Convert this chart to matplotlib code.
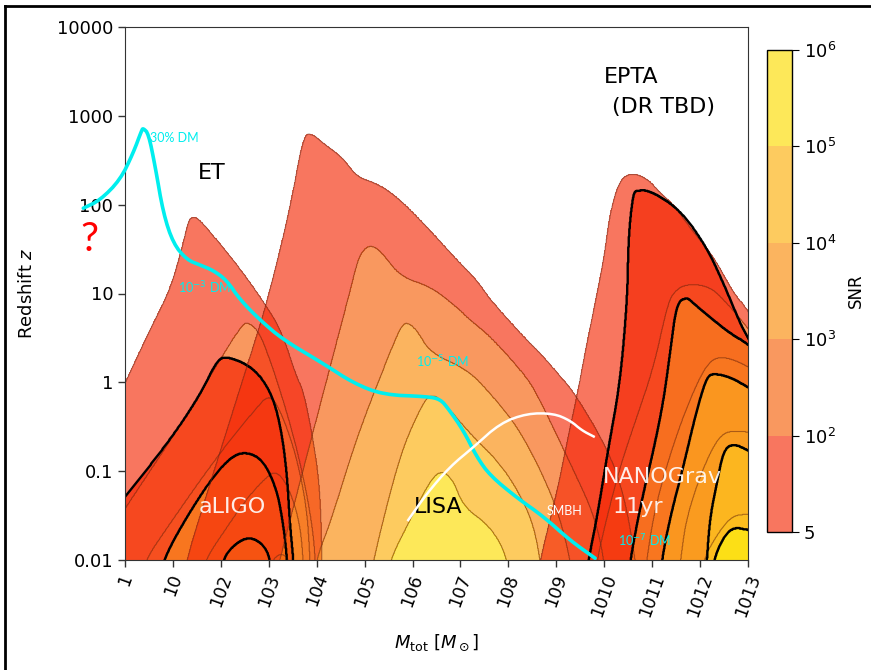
import numpy as np
import matplotlib
matplotlib.use("Agg")
import matplotlib.pyplot as plt
from matplotlib.path import Path
from matplotlib.colors import ListedColormap, BoundaryNorm
from matplotlib.cm import ScalarMappable
from matplotlib.lines import Line2D
from matplotlib.ticker import NullLocator

# SNR contour levels and band colours (drawn with alpha)
snr_levels = [5, 1e2, 1e3, 1e4, 1e5, 1e6]
snr_labels = ['5', '$10^2$', '$10^3$', '$10^4$', '$10^5$', '$10^6$']
band_colors = ['#f52d0a', '#f7610a', '#fa8c0a', '#fcaf0a', '#fcdd00']
band_alpha = 0.65

# contour outlines as (log10 M_tot, log10 z),
# one list per SNR level, outermost first
et_bands = [
    [(-0.5, -0.6), (0.0, -0.01), (0.52, 0.59), (0.94, 1.04), (1.18, 1.49), (1.32, 1.81),
     (1.39, 1.86), (1.53, 1.85), (1.98, 1.56), (2.47, 1.23), (2.96, 0.85), (3.27, 0.57),
     (3.58, 0.06), (3.72, -0.09), (3.93, -0.65), (4.07, -1.21), (4.11, -1.97), (4.12, -2.3)],
    [(-0.5, -1.84), (0.0, -1.42), (1.2, -0.45), (2.2, 0.45), (2.45, 0.64), (2.54, 0.68),
     (2.78, 0.59), (3.03, 0.25), (3.30, -0.20), (3.57, -0.71), (3.80, -1.27), (3.95, -1.78),
     (3.99, -2.3)],
    [(0.3, -2.3), (0.42, -2.0), (0.94, -1.59), (1.57, -1.10), (2.19, -0.65), (2.71, -0.31),
     (3.03, -0.12), (3.30, -0.39), (3.58, -0.84), (3.79, -1.40), (3.86, -1.97), (3.87, -2.3)],
    [(1.55, -2.3), (1.67, -2.0), (2.09, -1.66), (2.51, -1.33), (2.92, -1.08), (3.17, -0.99),
     (3.44, -1.21), (3.65, -1.59), (3.72, -2.0), (3.73, -2.3)],
    [(2.92, -2.3), (3.07, -2.0), (3.26, -1.92), (3.44, -2.0), (3.49, -2.3)],
]

aligo_bands = [
    [(-0.5, -1.63), (0.0, -1.29), (0.94, -0.65), (1.57, -0.14), (1.92, 0.25), (2.13, 0.295),
     (2.67, 0.17), (3.03, -0.09), (3.24, -0.46), (3.38, -1.02), (3.44, -1.59), (3.51, -1.97),
     (3.53, -2.3)],
    [(0.7, -2.3), (0.80, -1.97), (1.63, -1.21), (2.19, -0.84), (2.54, -0.78), (2.89, -0.88),
     (3.17, -1.21), (3.30, -1.59), (3.38, -1.97), (3.40, -2.3)],
    [(1.98, -2.3), (2.05, -1.97), (2.32, -1.81), (2.59, -1.74), (2.86, -1.81), (3.03, -1.97),
     (3.06, -2.3)],
]

lisa_bands = [
    [(1.2, -2.3), (1.28, -2.0), (1.77, -1.15), (2.19, -0.43), (2.61, 0.29), (2.96, 0.89),
     (3.44, 1.94), (3.72, 2.78), (3.90, 2.80), (4.14, 2.69), (4.56, 2.52), (4.84, 2.31),
     (5.25, 2.24), (5.67, 2.09), (6.23, 1.79), (6.92, 1.38), (7.34, 1.15), (7.62, 0.93),
     (8.32, 0.51), (8.66, 0.33), (9.08, 0.07), (9.43, -0.16), (10.12, -0.80), (10.44, -1.33),
     (10.65, -2.0), (10.7, -2.3)],
    [(3.1, -2.3), (3.24, -1.97), (4.28, 0.175), (4.63, 0.89), (4.84, 1.34), (4.94, 1.47),
     (5.11, 1.545), (5.32, 1.49), (5.74, 1.19), (6.37, 1.08), (6.92, 0.85), (7.2, 0.70),
     (7.62, 0.52), (8.32, 0.10), (8.59, -0.12), (9.29, -0.91), (9.78, -1.48), (9.99, -1.96),
     (10.02, -2.3)],
    [(3.95, -2.3), (4.0, -1.97), (4.28, -1.59), (4.84, -0.61), (5.5, 0.30), (5.75, 0.62),
     (5.88, 0.68), (6.09, 0.59), (6.37, 0.33), (7.13, 0.15), (7.62, -0.12), (8.25, -0.54),
     (8.94, -1.29), (9.29, -1.96), (9.32, -2.3)],
    [(5.1, -2.3), (5.18, -2.0), (5.74, -0.80), (6.2, -0.25), (6.37, -0.14), (6.58, -0.18),
     (7.2, -0.58), (7.90, -0.95), (8.46, -1.48), (8.66, -1.96), (8.7, -2.3)],
    [(5.45, -2.3), (5.53, -2.0), (5.9, -1.6), (6.37, -1.10), (6.61, -0.99), (6.85, -1.10),
     (7.06, -1.40), (7.62, -1.62), (7.97, -1.95), (8.0, -2.3)],
]

epta_bands = [
    [(8.6, -2.3), (8.66, -2.0), (9.01, -1.25), (9.29, -0.50), (9.43, -0.16), (9.57, 0.25),
     (9.78, 0.81), (9.99, 1.38), (10.13, 1.94), (10.33, 2.28), (10.54, 2.35), (10.75, 2.33),
     (10.96, 2.26), (11.17, 2.13), (11.45, 2.0), (11.73, 1.78), (12.28, 1.42), (12.70, 1.0),
     (12.98, 0.83), (13.5, 0.35)],
    [(9.8, -2.3), (9.85, -2.0), (10.06, -1.51), (10.33, -0.95), (10.68, -0.39), (11.03, 0.17),
     (11.31, 0.85), (11.45, 1.02), (11.72, 1.11), (12.21, 1.08), (12.56, 0.89), (12.98, 0.63),
     (13.5, 0.2)],
    [(10.85, -2.3), (10.88, -2.0), (11.09, -1.33), (11.51, -0.58), (11.93, -0.01), (12.21, 0.25),
     (12.49, 0.29), (12.91, 0.21), (13.5, 0.0)],
    [(11.55, -2.3), (11.59, -2.0), (11.72, -1.51), (12.07, -0.95), (12.42, -0.58), (12.77, -0.54),
     (13.5, -0.6)],
    [(12.03, -2.3), (12.07, -2.0), (12.28, -1.78), (12.63, -1.51), (12.98, -1.48), (13.5, -1.5)],
]

nanograv_bands = [
    [(9.6, -2.3), (9.67, -2.0), (9.85, -1.52), (10.08, -0.76), (10.33, -0.01), (10.48, 0.93),
     (10.5, 1.5), (10.54, 1.83), (10.61, 2.13), (10.68, 2.16), (10.96, 2.16), (11.59, 1.94),
     (12.14, 1.52), (12.5, 1.1), (12.84, 0.66), (12.98, 0.52), (13.5, 0.0)],
    [(10.5, -2.3), (10.54, -2.0), (10.78, -1.33), (11.03, -0.76), (11.24, -0.20), (11.38, 0.36),
     (11.51, 0.89), (11.72, 0.96), (11.86, 0.89), (12.28, 0.70), (12.63, 0.55), (12.98, 0.44),
     (13.5, 0.2)],
    [(11.17, -2.3), (11.20, -2.0), (11.38, -1.51), (11.65, -0.95), (11.93, -0.31), (12.14, 0.06),
     (12.28, 0.10), (12.63, 0.06), (12.98, -0.05), (13.5, -0.2)],
    [(12.12, -2.3), (12.14, -2.0), (12.21, -1.51), (12.35, -1.14), (12.49, -0.76), (12.70, -0.69),
     (12.98, -0.76), (13.5, -0.9)],
    [(12.25, -2.3), (12.28, -2.0), (12.49, -1.74), (12.70, -1.63), (12.98, -1.66), (13.5, -1.7)],
]

# overlaid curves (log10 M_tot, log10 z)
dm_curve = [(-0.87, 1.96), (-0.52, 2.05), (-0.10, 2.28), (0.17, 2.58), (0.35, 2.84), (0.38, 2.86),
            (0.49, 2.80), (0.63, 2.43), (0.80, 1.90), (1.01, 1.56), (1.29, 1.38), (1.57, 1.32),
            (1.84, 1.26), (2.12, 1.15), (2.40, 0.93), (2.82, 0.70), (3.30, 0.48), (4.14, 0.21),
            (4.77, -0.01), (5.39, -0.14), (6.30, -0.16), (6.58, -0.19), (6.75, -0.30), (7.06, -0.54),
            (7.34, -0.84), (7.62, -1.05), (8.18, -1.30), (8.73, -1.51), (9.29, -1.78), (9.81, -1.98)]
smbh_curve = [(5.91, -1.55), (6.30, -1.25), (6.78, -0.95), (7.27, -0.73), (7.83, -0.46),
              (8.39, -0.35), (8.94, -0.35), (9.29, -0.43), (9.53, -0.54), (9.78, -0.61)]

xtick_labels = ['1', '10'] + ['10%d' % k for k in range(2, 14)]
ytick_vals = [0.01, 0.1, 1, 10, 100, 1000, 10000]
ytick_labels = ['0.01', '0.1', '1', '10', '100', '1000', '10000']


def smooth(points, n=3):
    # chaikin corner cutting, only to draw the read outlines without kinks
    p = np.asarray(points, dtype=float)
    for _ in range(n):
        q = 0.75 * p[:-1] + 0.25 * p[1:]
        r = 0.25 * p[:-1] + 0.75 * p[1:]
        mid = np.empty((2 * len(q), 2))
        mid[0::2] = q
        mid[1::2] = r
        p = np.vstack([p[:1], mid, p[-1:]])
    return p


fig = plt.figure(figsize=(8.71, 6.70), dpi=100)
ax = fig.add_axes([125/871, 1 - 560/670, 623/871, 533/670])
cax = fig.add_axes([767/871, 1 - 532/670, 25/871, 482/670])

# grid in log space, each point gets the index of the innermost contour holding it
gx = np.linspace(-0.6, 13.6, 1300)
gz = np.linspace(-2.4, 4.2, 900)
GX, GZ = np.meshgrid(gx, gz)
pts = np.column_stack([GX.ravel(), GZ.ravel()])


def band_index(bands):
    idx = np.zeros(len(pts))
    for k, b in enumerate(bands, start=1):
        b = smooth(b)
        poly = np.vstack([b, [[b[-1, 0], -3.5], [b[0, 0], -3.5]]])
        idx[Path(poly).contains_points(pts)] = k
    return idx.reshape(GX.shape)


M = 10**GX
Z = 10**GZ
detectors = [
    (et_bands, '#6b2a1a', 0.8, 0.55, band_alpha),
    (aligo_bands, 'k', 1.7, 1.0, 0.75),
    (lisa_bands, '#6b2a1a', 0.8, 0.55, band_alpha),
    (epta_bands, '#6b2a1a', 0.8, 0.55, band_alpha),
    (nanograv_bands, 'k', 1.7, 1.0, 0.75),
]
for bands, ec, lw, la, fa in detectors:
    f = band_index(bands)
    lev = np.arange(len(bands) + 1) + 0.5
    ax.contourf(M, Z, f, levels=lev, colors=band_colors[:len(bands)], alpha=fa)
    ax.contour(M, Z, f, levels=lev[:-1], colors=ec, linewidths=lw, alpha=la)

dm = smooth(dm_curve, 2)
ax.plot(10**dm[:, 0], 10**dm[:, 1], color='#00eeee', lw=2.6, clip_on=False,
        solid_capstyle='round', solid_joinstyle='round', zorder=5)
sm_ = smooth(smbh_curve, 2)
ax.plot(10**sm_[:, 0], 10**sm_[:, 1], color='white', lw=1.8, zorder=5)

ax.set_xscale('log')
ax.set_yscale('log')
ax.set_xlim(1, 1e13)
ax.set_ylim(0.01, 1e4)
ax.set_xticks(10.0**np.arange(14))
ax.set_xticklabels(xtick_labels, rotation=70, ha='center', fontsize=12.5)
ax.set_yticks(ytick_vals)
ax.set_yticklabels(ytick_labels, fontsize=13)
ax.xaxis.set_minor_locator(NullLocator())
ax.yaxis.set_minor_locator(NullLocator())
ax.tick_params(length=5, width=1, color='#333333')
for s in ax.spines.values():
    s.set_color('#333333')
ax.set_xlabel(r'$M_{\rm tot}$ [$M_\odot$]', fontsize=13, labelpad=10)
ax.set_ylabel(r'Redshift $z$', fontsize=13, labelpad=15)

# region labels
ax.text(10**1.82, 10**2.36, 'ET', fontsize=16, ha='center', va='center')
ax.text(10**10.0, 10**3.437, 'EPTA', fontsize=16, ha='left', va='center')
ax.text(10**10.17, 10**3.10, '(DR TBD)', fontsize=16, ha='left', va='center')
ax.text(10**2.23, 10**-1.405, 'aLIGO', fontsize=16, color='white', alpha=0.9, ha='center', va='center')
ax.text(10**6.53, 10**-1.405, 'LISA', fontsize=16, ha='center', va='center')
ax.text(10**9.98, 10**-1.07, 'NANOGrav', fontsize=16, color='white', alpha=0.9, ha='left', va='center')
ax.text(10**10.17, 10**-1.405, '11yr', fontsize=16, color='white', alpha=0.9, ha='left', va='center')

small = dict(fontsize=9, family=['Lato', 'DejaVu Sans'], ha='left', va='center', zorder=6)
ax.text(10**0.52, 10**2.75, '30% DM', color='#00eeee', **small)
ax.text(10**1.11, 10**1.06, r'10$^{-3}$ DM', color='#00eeee', **small)
ax.text(10**6.08, 10**0.23, r'10$^{-5}$ DM', color='#00eeee', **small)
ax.text(10**10.29, 10**-1.78, r'10$^{-7}$ DM', color='#00eeee', **small)
ax.text(10**8.79, 10**-1.45, 'SMBH', color='white', **small)

fig.text(89/871, 1 - 239/670, '?', color='red', fontsize=29, family=['Lato', 'DejaVu Sans'],
         ha='center', va='center')

# colour bar
cmap = ListedColormap(band_colors)
sm = ScalarMappable(norm=BoundaryNorm(snr_levels, len(band_colors)), cmap=cmap)
cb = fig.colorbar(sm, cax=cax, alpha=band_alpha)
cb.set_ticks(snr_levels)
cb.set_ticklabels(snr_labels)
cb.ax.tick_params(labelsize=13, length=5)
cb.outline.set_linewidth(1.0)
cb.set_label('SNR', fontsize=12, labelpad=8)

# black frame of the screenshot
fig.add_artist(Line2D([5/871, 5/871], [0, 1 - 6/670], color='k', lw=2, transform=fig.transFigure))
fig.add_artist(Line2D([5/871, 1], [1 - 6/670, 1 - 6/670], color='k', lw=2, transform=fig.transFigure))

fig.savefig('out.png', dpi=100)
